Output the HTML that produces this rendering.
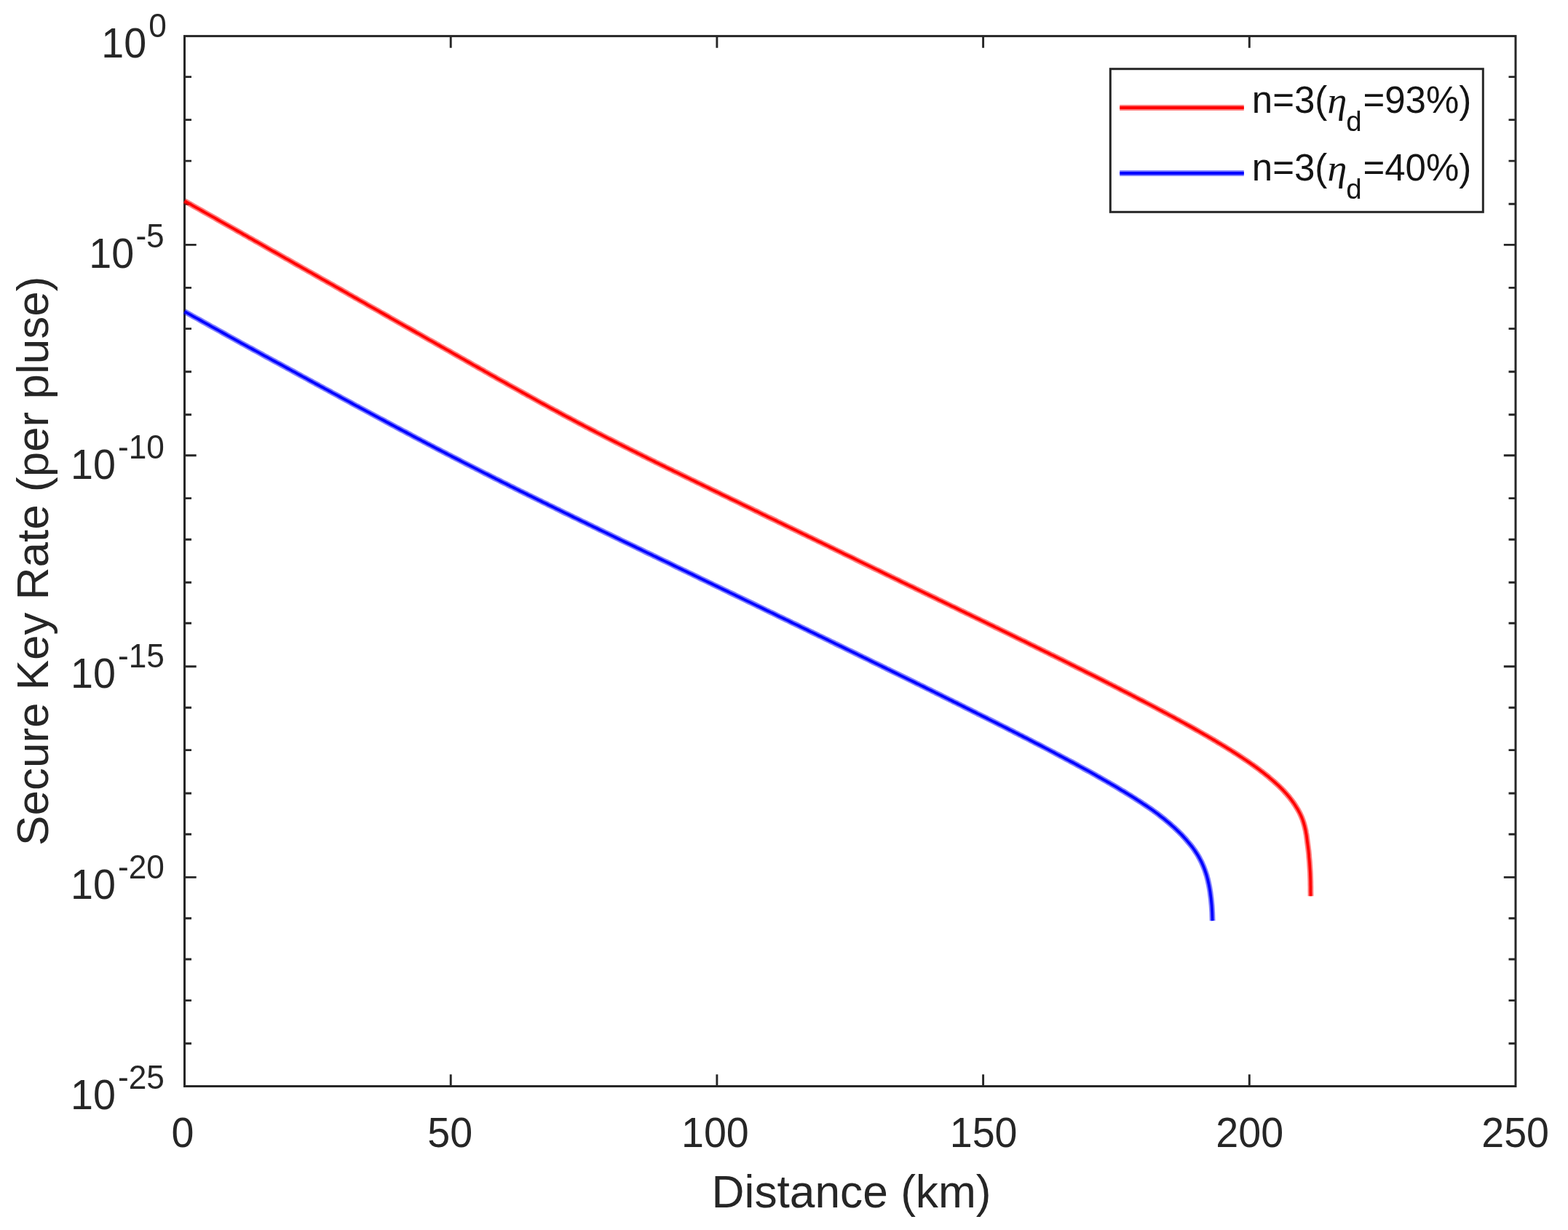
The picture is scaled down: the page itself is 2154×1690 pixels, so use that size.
<!DOCTYPE html>
<html lang="en">
<head>
<meta charset="utf-8">
<title>Secure Key Rate vs Distance</title>
<style>
html,body{margin:0;padding:0;background:#fff;}
body{width:2154px;height:1690px;overflow:hidden;}
svg{display:block;}
text{font-family:"Liberation Sans",sans-serif;fill:#262626;}
text.eta{font-family:"Liberation Serif",serif;font-style:italic;}
text.lg{fill:#141414;}
</style>
</head>
<body>
<svg width="2154" height="1690" viewBox="0 0 2154 1690">
<rect x="0" y="0" width="2154" height="1690" fill="#ffffff"/>
<!-- ticks -->
<g stroke="#262626" stroke-width="2.9" fill="none">
<path d="M253.5 105.6h9.5M2082.0 105.6h-9.5"/>
<path d="M253.5 164.6h9.5M2082.0 164.6h-9.5"/>
<path d="M253.5 221.1h9.5M2082.0 221.1h-9.5"/>
<path d="M253.5 280.2h9.5M2082.0 280.2h-9.5"/>
<path d="M253.5 336.4h16.2M2082.0 336.4h-16.2"/>
<path d="M253.5 395.4h9.5M2082.0 395.4h-9.5"/>
<path d="M253.5 451.6h9.5M2082.0 451.6h-9.5"/>
<path d="M253.5 510.8h9.5M2082.0 510.8h-9.5"/>
<path d="M253.5 569.8h9.5M2082.0 569.8h-9.5"/>
<path d="M253.5 625.8h16.2M2082.0 625.8h-16.2"/>
<path d="M253.5 684.6h9.5M2082.0 684.6h-9.5"/>
<path d="M253.5 741.2h9.5M2082.0 741.2h-9.5"/>
<path d="M253.5 800.3h9.5M2082.0 800.3h-9.5"/>
<path d="M253.5 856.3h9.5M2082.0 856.3h-9.5"/>
<path d="M253.5 915.7h16.2M2082.0 915.7h-16.2"/>
<path d="M253.5 972.3h9.5M2082.0 972.3h-9.5"/>
<path d="M253.5 1030.6h9.5M2082.0 1030.6h-9.5"/>
<path d="M253.5 1090.0h9.5M2082.0 1090.0h-9.5"/>
<path d="M253.5 1146.3h9.5M2082.0 1146.3h-9.5"/>
<path d="M253.5 1205.4h16.2M2082.0 1205.4h-16.2"/>
<path d="M253.5 1261.7h9.5M2082.0 1261.7h-9.5"/>
<path d="M253.5 1318.0h9.5M2082.0 1318.0h-9.5"/>
<path d="M253.5 1374.6h9.5M2082.0 1374.6h-9.5"/>
<path d="M253.5 1433.7h9.5M2082.0 1433.7h-9.5"/>
<path d="M619.2 1492.5v-16.2M619.2 49.6v16.2"/>
<path d="M984.9 1492.5v-16.2M984.9 49.6v16.2"/>
<path d="M1350.6 1492.5v-16.2M1350.6 49.6v16.2"/>
<path d="M1716.3 1492.5v-16.2M1716.3 49.6v16.2"/>
</g>
<!-- axes box -->
<rect x="253.5" y="49.6" width="1828.5" height="1442.9" fill="none" stroke="#262626" stroke-width="3"/>
<!-- data curves -->
<g fill="none" stroke="#ff0000" stroke-linejoin="round">
<path d="M253.5 276.0 L257.6 278.4 L261.7 280.7 L265.8 283.1 L269.9 285.4 L274.0 287.7 L278.1 290.0 L282.2 292.3 L286.3 294.6 L290.3 296.9 L294.4 299.2 L298.4 301.5 L302.5 303.8 L306.5 306.1 L310.5 308.4 L314.5 310.7 L318.5 312.9 L322.5 315.2 L326.5 317.5 L330.5 319.7 L334.4 322.0 L338.4 324.2 L342.3 326.5 L346.3 328.7 L350.2 331.0 L354.2 333.2 L358.1 335.4 L362.0 337.6 L365.9 339.9 L369.8 342.1 L373.7 344.3 L377.6 346.5 L381.4 348.7 L385.3 350.9 L389.2 353.1 L393.0 355.3 L396.9 357.4 L400.7 359.6 L404.5 361.8 L408.3 364.0 L412.2 366.1 L416.0 368.3 L419.7 370.4 L423.5 372.6 L427.3 374.7 L431.1 376.9 L434.9 379.0 L438.6 381.1 L442.4 383.3 L446.1 385.4 L449.8 387.5 L453.6 389.6 L457.3 391.7 L461.0 393.8 L464.7 395.9 L468.4 398.0 L472.1 400.1 L475.7 402.2 L479.4 404.3 L483.1 406.4 L486.7 408.5 L490.4 410.5 L494.0 412.6 L497.7 414.7 L501.3 416.7 L504.9 418.8 L508.5 420.8 L512.1 422.9 L515.7 424.9 L519.3 426.9 L522.9 429.0 L526.5 431.0 L530.0 433.0 L533.6 435.0 L537.1 437.1 L540.7 439.1 L544.2 441.1 L547.7 443.1 L551.3 445.1 L554.8 447.1 L558.3 449.1 L561.8 451.0 L565.3 453.0 L568.8 455.0 L572.2 457.0 L575.7 458.9 L579.2 460.9 L582.6 462.8 L586.1 464.8 L589.5 466.8 L592.9 468.7 L596.4 470.6 L599.8 472.6 L603.2 474.5 L606.6 476.5 L610.0 478.4 L613.4 480.3 L616.8 482.2 L620.1 484.2 L623.5 486.1 L626.9 488.0 L630.2 489.9 L633.6 491.8 L636.9 493.7 L640.2 495.6 L643.6 497.5 L646.9 499.4 L650.2 501.3 L653.5 503.1 L656.8 505.0 L660.1 506.9 L663.4 508.7 L666.6 510.6 L669.9 512.4 L673.2 514.3 L676.4 516.1 L679.7 517.9 L682.9 519.8 L686.1 521.6 L689.3 523.4 L692.6 525.2 L695.8 527.0 L699.0 528.8 L702.2 530.6 L705.4 532.4 L708.6 534.2 L711.7 535.9 L714.9 537.7 L718.1 539.5 L721.2 541.2 L724.4 543.0 L727.5 544.7 L730.6 546.4 L733.8 548.2 L736.9 549.9 L740.0 551.6 L743.1 553.3 L746.2 555.0 L749.3 556.7 L752.4 558.4 L755.5 560.1 L758.5 561.7 L761.6 563.4 L764.7 565.0 L767.7 566.7 L770.8 568.3 L773.8 570.0 L776.8 571.6 L779.9 573.2 L782.9 574.8 L785.9 576.4 L788.9 578.0 L791.9 579.6 L794.9 581.2 L797.9 582.8 L800.9 584.3 L803.8 585.9 L806.8 587.4 L809.8 589.0 L812.7 590.5 L815.7 592.0 L818.6 593.6 L821.5 595.1 L824.5 596.6 L827.4 598.1 L830.3 599.6 L833.2 601.1 L836.1 602.6 L839.0 604.0 L841.9 605.5 L844.8 607.0 L847.6 608.4 L850.5 609.9 L853.4 611.3 L856.2 612.8 L859.1 614.2 L861.9 615.6 L864.8 617.1 L867.6 618.5 L870.4 619.9 L873.2 621.3 L876.0 622.7 L878.8 624.1 L881.6 625.5 L884.4 626.9 L887.2 628.3 L890.0 629.7 L892.8 631.1 L895.5 632.4 L898.3 633.8 L901.0 635.2 L903.8 636.5 L906.5 637.9 L909.3 639.2 L912.0 640.5 L914.7 641.9 L917.4 643.2 L920.1 644.5 L922.8 645.8 L925.5 647.2 L929.6 649.1 L933.6 651.1 L937.6 653.1 L941.6 655.0 L945.6 656.9 L949.5 658.9 L953.5 660.8 L957.4 662.7 L961.3 664.6 L965.2 666.5 L969.1 668.4 L973.0 670.3 L976.9 672.2 L980.7 674.1 L984.6 675.9 L988.4 677.8 L992.2 679.7 L996.0 681.5 L999.8 683.3 L1003.6 685.2 L1007.3 687.0 L1011.1 688.8 L1014.8 690.6 L1018.5 692.4 L1022.2 694.2 L1025.9 696.0 L1029.6 697.8 L1033.3 699.6 L1036.9 701.4 L1040.6 703.1 L1044.2 704.9 L1047.8 706.7 L1051.4 708.4 L1055.0 710.2 L1058.6 711.9 L1062.2 713.6 L1065.7 715.3 L1069.2 717.1 L1072.8 718.8 L1076.3 720.5 L1079.8 722.2 L1083.3 723.9 L1086.7 725.6 L1090.2 727.2 L1093.7 728.9 L1097.1 730.6 L1100.5 732.2 L1103.9 733.9 L1107.3 735.5 L1110.7 737.2 L1114.1 738.8 L1117.5 740.5 L1120.8 742.1 L1124.1 743.7 L1127.5 745.3 L1130.8 746.9 L1134.1 748.5 L1137.4 750.1 L1140.6 751.7 L1143.9 753.3 L1147.2 754.9 L1150.4 756.5 L1153.6 758.0 L1156.8 759.6 L1160.0 761.2 L1163.2 762.7 L1166.4 764.2 L1169.6 765.8 L1172.7 767.3 L1175.9 768.9 L1179.0 770.4 L1182.1 771.9 L1185.2 773.4 L1188.3 774.9 L1191.4 776.4 L1194.5 777.9 L1197.6 779.4 L1200.6 780.9 L1203.7 782.4 L1206.7 783.8 L1209.7 785.3 L1212.7 786.8 L1215.7 788.2 L1218.7 789.7 L1221.6 791.1 L1224.6 792.6 L1227.6 794.0 L1230.5 795.4 L1233.4 796.8 L1236.3 798.3 L1239.2 799.7 L1242.1 801.1 L1245.0 802.5 L1247.9 803.9 L1250.7 805.3 L1253.6 806.6 L1256.4 808.0 L1259.2 809.4 L1262.0 810.7 L1264.9 812.1 L1267.6 813.4 L1270.4 814.8 L1273.2 816.1 L1276.0 817.5 L1278.7 818.8 L1281.4 820.1 L1284.2 821.4 L1286.9 822.7 L1289.6 824.1 L1293.2 825.8 L1296.7 827.5 L1300.3 829.2 L1303.8 830.9 L1307.3 832.7 L1310.8 834.3 L1314.3 836.0 L1317.8 837.7 L1321.2 839.4 L1324.6 841.0 L1328.0 842.7 L1331.4 844.3 L1334.8 846.0 L1338.1 847.6 L1341.5 849.2 L1344.8 850.8 L1348.1 852.4 L1351.4 854.0 L1354.6 855.6 L1357.9 857.2 L1361.1 858.7 L1364.3 860.3 L1367.5 861.9 L1370.7 863.4 L1373.8 864.9 L1377.0 866.5 L1380.1 868.0 L1383.2 869.5 L1386.3 871.0 L1389.3 872.5 L1392.4 874.0 L1395.4 875.5 L1398.4 877.0 L1401.4 878.4 L1404.4 879.9 L1407.4 881.3 L1410.3 882.8 L1413.3 884.2 L1416.2 885.7 L1419.1 887.1 L1422.0 888.5 L1424.8 889.9 L1427.7 891.3 L1430.5 892.7 L1433.3 894.1 L1436.1 895.5 L1438.9 896.8 L1441.7 898.2 L1444.4 899.6 L1447.2 900.9 L1449.9 902.3 L1452.6 903.6 L1455.3 904.9 L1458.7 906.6 L1462.0 908.3 L1465.3 909.9 L1468.5 911.5 L1471.8 913.2 L1475.0 914.8 L1478.2 916.4 L1481.4 918.0 L1484.5 919.5 L1487.7 921.1 L1490.8 922.7 L1493.8 924.2 L1496.9 925.8 L1499.9 927.3 L1503.0 928.8 L1505.9 930.3 L1508.9 931.8 L1511.9 933.3 L1514.8 934.8 L1517.7 936.3 L1520.6 937.7 L1523.4 939.2 L1526.3 940.6 L1529.1 942.1 L1531.9 943.5 L1534.6 944.9 L1537.4 946.3 L1540.1 947.7 L1542.8 949.1 L1545.5 950.5 L1548.7 952.1 L1551.9 953.8 L1555.0 955.4 L1558.1 957.0 L1561.2 958.6 L1564.2 960.2 L1567.2 961.7 L1570.2 963.3 L1573.2 964.9 L1576.1 966.4 L1579.0 967.9 L1581.9 969.4 L1584.7 970.9 L1587.6 972.4 L1590.3 973.9 L1593.1 975.4 L1595.8 976.8 L1598.6 978.3 L1601.2 979.7 L1603.9 981.1 L1607.0 982.8 L1610.0 984.4 L1613.0 986.0 L1615.9 987.7 L1618.9 989.2 L1621.8 990.8 L1624.6 992.4 L1627.4 993.9 L1630.2 995.5 L1633.0 997.0 L1635.7 998.5 L1638.4 1000.0 L1641.0 1001.5 L1643.6 1003.0 L1646.6 1004.7 L1649.5 1006.3 L1652.4 1008.0 L1655.2 1009.6 L1658.0 1011.2 L1660.8 1012.8 L1663.5 1014.4 L1666.1 1016.0 L1668.8 1017.5 L1671.4 1019.1 L1674.2 1020.8 L1677.1 1022.5 L1679.8 1024.2 L1682.6 1025.8 L1685.2 1027.5 L1687.9 1029.1 L1690.5 1030.7 L1693.0 1032.3 L1695.8 1034.1 L1698.5 1035.8 L1701.2 1037.6 L1703.8 1039.3 L1706.4 1041.0 L1708.9 1042.7 L1711.6 1044.5 L1714.3 1046.3 L1716.9 1048.1 L1719.4 1049.9 L1721.9 1051.6 L1724.5 1053.5 L1727.1 1055.4 L1729.6 1057.2 L1732.0 1059.1 L1734.6 1061.0 L1737.1 1063.0 L1739.5 1064.9 L1741.9 1066.8 L1744.3 1068.9 L1746.7 1070.9 L1749.0 1072.9 L1751.4 1075.0 L1753.7 1077.1 L1756.0 1079.2 L1758.3 1081.4 L1760.5 1083.6 L1762.6 1085.7 L1764.7 1088.0 L1766.8 1090.3 L1768.8 1092.6 L1770.8 1094.9 L1772.7 1097.3 L1774.6 1099.8 L1776.4 1102.3 L1778.1 1104.8 L1779.8 1107.4 L1781.4 1110.0 L1783.0 1112.6 L1784.5 1115.3 L1785.9 1118.0 L1787.2 1120.8 L1788.4 1123.6 L1789.5 1126.4 L1790.5 1129.4 L1791.4 1132.4 L1792.2 1135.3 L1792.9 1138.2 L1793.6 1141.2 L1794.1 1144.2 L1794.7 1147.3 L1795.1 1150.3 L1795.5 1153.3 L1795.9 1156.5 L1796.3 1159.5 L1796.7 1162.6 L1797.1 1165.6 L1797.5 1168.7 L1797.8 1171.7 L1798.1 1174.8 L1798.3 1177.9 L1798.6 1180.9 L1798.9 1184.1 L1799.1 1187.1 L1799.3 1190.2 L1799.5 1193.4 L1799.7 1196.4 L1799.9 1199.6 L1800.0 1202.6 L1800.1 1205.7 L1800.2 1208.9 L1800.3 1211.9 L1800.3 1215.0 L1800.4 1218.3 L1800.4 1221.3 L1800.4 1224.5 L1800.5 1227.7 L1800.5 1230.7 L1800.5 1231.2" stroke-width="7.8" stroke-opacity="0.5"/>
<path d="M253.5 276.0 L257.6 278.4 L261.7 280.7 L265.8 283.1 L269.9 285.4 L274.0 287.7 L278.1 290.0 L282.2 292.3 L286.3 294.6 L290.3 296.9 L294.4 299.2 L298.4 301.5 L302.5 303.8 L306.5 306.1 L310.5 308.4 L314.5 310.7 L318.5 312.9 L322.5 315.2 L326.5 317.5 L330.5 319.7 L334.4 322.0 L338.4 324.2 L342.3 326.5 L346.3 328.7 L350.2 331.0 L354.2 333.2 L358.1 335.4 L362.0 337.6 L365.9 339.9 L369.8 342.1 L373.7 344.3 L377.6 346.5 L381.4 348.7 L385.3 350.9 L389.2 353.1 L393.0 355.3 L396.9 357.4 L400.7 359.6 L404.5 361.8 L408.3 364.0 L412.2 366.1 L416.0 368.3 L419.7 370.4 L423.5 372.6 L427.3 374.7 L431.1 376.9 L434.9 379.0 L438.6 381.1 L442.4 383.3 L446.1 385.4 L449.8 387.5 L453.6 389.6 L457.3 391.7 L461.0 393.8 L464.7 395.9 L468.4 398.0 L472.1 400.1 L475.7 402.2 L479.4 404.3 L483.1 406.4 L486.7 408.5 L490.4 410.5 L494.0 412.6 L497.7 414.7 L501.3 416.7 L504.9 418.8 L508.5 420.8 L512.1 422.9 L515.7 424.9 L519.3 426.9 L522.9 429.0 L526.5 431.0 L530.0 433.0 L533.6 435.0 L537.1 437.1 L540.7 439.1 L544.2 441.1 L547.7 443.1 L551.3 445.1 L554.8 447.1 L558.3 449.1 L561.8 451.0 L565.3 453.0 L568.8 455.0 L572.2 457.0 L575.7 458.9 L579.2 460.9 L582.6 462.8 L586.1 464.8 L589.5 466.8 L592.9 468.7 L596.4 470.6 L599.8 472.6 L603.2 474.5 L606.6 476.5 L610.0 478.4 L613.4 480.3 L616.8 482.2 L620.1 484.2 L623.5 486.1 L626.9 488.0 L630.2 489.9 L633.6 491.8 L636.9 493.7 L640.2 495.6 L643.6 497.5 L646.9 499.4 L650.2 501.3 L653.5 503.1 L656.8 505.0 L660.1 506.9 L663.4 508.7 L666.6 510.6 L669.9 512.4 L673.2 514.3 L676.4 516.1 L679.7 517.9 L682.9 519.8 L686.1 521.6 L689.3 523.4 L692.6 525.2 L695.8 527.0 L699.0 528.8 L702.2 530.6 L705.4 532.4 L708.6 534.2 L711.7 535.9 L714.9 537.7 L718.1 539.5 L721.2 541.2 L724.4 543.0 L727.5 544.7 L730.6 546.4 L733.8 548.2 L736.9 549.9 L740.0 551.6 L743.1 553.3 L746.2 555.0 L749.3 556.7 L752.4 558.4 L755.5 560.1 L758.5 561.7 L761.6 563.4 L764.7 565.0 L767.7 566.7 L770.8 568.3 L773.8 570.0 L776.8 571.6 L779.9 573.2 L782.9 574.8 L785.9 576.4 L788.9 578.0 L791.9 579.6 L794.9 581.2 L797.9 582.8 L800.9 584.3 L803.8 585.9 L806.8 587.4 L809.8 589.0 L812.7 590.5 L815.7 592.0 L818.6 593.6 L821.5 595.1 L824.5 596.6 L827.4 598.1 L830.3 599.6 L833.2 601.1 L836.1 602.6 L839.0 604.0 L841.9 605.5 L844.8 607.0 L847.6 608.4 L850.5 609.9 L853.4 611.3 L856.2 612.8 L859.1 614.2 L861.9 615.6 L864.8 617.1 L867.6 618.5 L870.4 619.9 L873.2 621.3 L876.0 622.7 L878.8 624.1 L881.6 625.5 L884.4 626.9 L887.2 628.3 L890.0 629.7 L892.8 631.1 L895.5 632.4 L898.3 633.8 L901.0 635.2 L903.8 636.5 L906.5 637.9 L909.3 639.2 L912.0 640.5 L914.7 641.9 L917.4 643.2 L920.1 644.5 L922.8 645.8 L925.5 647.2 L929.6 649.1 L933.6 651.1 L937.6 653.1 L941.6 655.0 L945.6 656.9 L949.5 658.9 L953.5 660.8 L957.4 662.7 L961.3 664.6 L965.2 666.5 L969.1 668.4 L973.0 670.3 L976.9 672.2 L980.7 674.1 L984.6 675.9 L988.4 677.8 L992.2 679.7 L996.0 681.5 L999.8 683.3 L1003.6 685.2 L1007.3 687.0 L1011.1 688.8 L1014.8 690.6 L1018.5 692.4 L1022.2 694.2 L1025.9 696.0 L1029.6 697.8 L1033.3 699.6 L1036.9 701.4 L1040.6 703.1 L1044.2 704.9 L1047.8 706.7 L1051.4 708.4 L1055.0 710.2 L1058.6 711.9 L1062.2 713.6 L1065.7 715.3 L1069.2 717.1 L1072.8 718.8 L1076.3 720.5 L1079.8 722.2 L1083.3 723.9 L1086.7 725.6 L1090.2 727.2 L1093.7 728.9 L1097.1 730.6 L1100.5 732.2 L1103.9 733.9 L1107.3 735.5 L1110.7 737.2 L1114.1 738.8 L1117.5 740.5 L1120.8 742.1 L1124.1 743.7 L1127.5 745.3 L1130.8 746.9 L1134.1 748.5 L1137.4 750.1 L1140.6 751.7 L1143.9 753.3 L1147.2 754.9 L1150.4 756.5 L1153.6 758.0 L1156.8 759.6 L1160.0 761.2 L1163.2 762.7 L1166.4 764.2 L1169.6 765.8 L1172.7 767.3 L1175.9 768.9 L1179.0 770.4 L1182.1 771.9 L1185.2 773.4 L1188.3 774.9 L1191.4 776.4 L1194.5 777.9 L1197.6 779.4 L1200.6 780.9 L1203.7 782.4 L1206.7 783.8 L1209.7 785.3 L1212.7 786.8 L1215.7 788.2 L1218.7 789.7 L1221.6 791.1 L1224.6 792.6 L1227.6 794.0 L1230.5 795.4 L1233.4 796.8 L1236.3 798.3 L1239.2 799.7 L1242.1 801.1 L1245.0 802.5 L1247.9 803.9 L1250.7 805.3 L1253.6 806.6 L1256.4 808.0 L1259.2 809.4 L1262.0 810.7 L1264.9 812.1 L1267.6 813.4 L1270.4 814.8 L1273.2 816.1 L1276.0 817.5 L1278.7 818.8 L1281.4 820.1 L1284.2 821.4 L1286.9 822.7 L1289.6 824.1 L1293.2 825.8 L1296.7 827.5 L1300.3 829.2 L1303.8 830.9 L1307.3 832.7 L1310.8 834.3 L1314.3 836.0 L1317.8 837.7 L1321.2 839.4 L1324.6 841.0 L1328.0 842.7 L1331.4 844.3 L1334.8 846.0 L1338.1 847.6 L1341.5 849.2 L1344.8 850.8 L1348.1 852.4 L1351.4 854.0 L1354.6 855.6 L1357.9 857.2 L1361.1 858.7 L1364.3 860.3 L1367.5 861.9 L1370.7 863.4 L1373.8 864.9 L1377.0 866.5 L1380.1 868.0 L1383.2 869.5 L1386.3 871.0 L1389.3 872.5 L1392.4 874.0 L1395.4 875.5 L1398.4 877.0 L1401.4 878.4 L1404.4 879.9 L1407.4 881.3 L1410.3 882.8 L1413.3 884.2 L1416.2 885.7 L1419.1 887.1 L1422.0 888.5 L1424.8 889.9 L1427.7 891.3 L1430.5 892.7 L1433.3 894.1 L1436.1 895.5 L1438.9 896.8 L1441.7 898.2 L1444.4 899.6 L1447.2 900.9 L1449.9 902.3 L1452.6 903.6 L1455.3 904.9 L1458.7 906.6 L1462.0 908.3 L1465.3 909.9 L1468.5 911.5 L1471.8 913.2 L1475.0 914.8 L1478.2 916.4 L1481.4 918.0 L1484.5 919.5 L1487.7 921.1 L1490.8 922.7 L1493.8 924.2 L1496.9 925.8 L1499.9 927.3 L1503.0 928.8 L1505.9 930.3 L1508.9 931.8 L1511.9 933.3 L1514.8 934.8 L1517.7 936.3 L1520.6 937.7 L1523.4 939.2 L1526.3 940.6 L1529.1 942.1 L1531.9 943.5 L1534.6 944.9 L1537.4 946.3 L1540.1 947.7 L1542.8 949.1 L1545.5 950.5 L1548.7 952.1 L1551.9 953.8 L1555.0 955.4 L1558.1 957.0 L1561.2 958.6 L1564.2 960.2 L1567.2 961.7 L1570.2 963.3 L1573.2 964.9 L1576.1 966.4 L1579.0 967.9 L1581.9 969.4 L1584.7 970.9 L1587.6 972.4 L1590.3 973.9 L1593.1 975.4 L1595.8 976.8 L1598.6 978.3 L1601.2 979.7 L1603.9 981.1 L1607.0 982.8 L1610.0 984.4 L1613.0 986.0 L1615.9 987.7 L1618.9 989.2 L1621.8 990.8 L1624.6 992.4 L1627.4 993.9 L1630.2 995.5 L1633.0 997.0 L1635.7 998.5 L1638.4 1000.0 L1641.0 1001.5 L1643.6 1003.0 L1646.6 1004.7 L1649.5 1006.3 L1652.4 1008.0 L1655.2 1009.6 L1658.0 1011.2 L1660.8 1012.8 L1663.5 1014.4 L1666.1 1016.0 L1668.8 1017.5 L1671.4 1019.1 L1674.2 1020.8 L1677.1 1022.5 L1679.8 1024.2 L1682.6 1025.8 L1685.2 1027.5 L1687.9 1029.1 L1690.5 1030.7 L1693.0 1032.3 L1695.8 1034.1 L1698.5 1035.8 L1701.2 1037.6 L1703.8 1039.3 L1706.4 1041.0 L1708.9 1042.7 L1711.6 1044.5 L1714.3 1046.3 L1716.9 1048.1 L1719.4 1049.9 L1721.9 1051.6 L1724.5 1053.5 L1727.1 1055.4 L1729.6 1057.2 L1732.0 1059.1 L1734.6 1061.0 L1737.1 1063.0 L1739.5 1064.9 L1741.9 1066.8 L1744.3 1068.9 L1746.7 1070.9 L1749.0 1072.9 L1751.4 1075.0 L1753.7 1077.1 L1756.0 1079.2 L1758.3 1081.4 L1760.5 1083.6 L1762.6 1085.7 L1764.7 1088.0 L1766.8 1090.3 L1768.8 1092.6 L1770.8 1094.9 L1772.7 1097.3 L1774.6 1099.8 L1776.4 1102.3 L1778.1 1104.8 L1779.8 1107.4 L1781.4 1110.0 L1783.0 1112.6 L1784.5 1115.3 L1785.9 1118.0 L1787.2 1120.8 L1788.4 1123.6 L1789.5 1126.4 L1790.5 1129.4 L1791.4 1132.4 L1792.2 1135.3 L1792.9 1138.2 L1793.6 1141.2 L1794.1 1144.2 L1794.7 1147.3 L1795.1 1150.3 L1795.5 1153.3 L1795.9 1156.5 L1796.3 1159.5 L1796.7 1162.6 L1797.1 1165.6 L1797.5 1168.7 L1797.8 1171.7 L1798.1 1174.8 L1798.3 1177.9 L1798.6 1180.9 L1798.9 1184.1 L1799.1 1187.1 L1799.3 1190.2 L1799.5 1193.4 L1799.7 1196.4 L1799.9 1199.6 L1800.0 1202.6 L1800.1 1205.7 L1800.2 1208.9 L1800.3 1211.9 L1800.3 1215.0 L1800.4 1218.3 L1800.4 1221.3 L1800.4 1224.5 L1800.5 1227.7 L1800.5 1230.7 L1800.5 1231.2" stroke-width="3.8"/>
</g>
<g fill="none" stroke="#0000ff" stroke-linejoin="round">
<path d="M253.5 428.0 L257.3 430.1 L261.0 432.2 L264.8 434.3 L268.5 436.4 L272.3 438.4 L276.0 440.5 L279.7 442.6 L283.4 444.7 L287.1 446.7 L290.8 448.8 L294.5 450.8 L298.2 452.9 L301.9 454.9 L305.6 457.0 L309.2 459.0 L312.9 461.1 L316.5 463.1 L320.2 465.1 L323.8 467.1 L327.4 469.2 L331.0 471.2 L334.7 473.1 L338.3 475.1 L341.9 477.1 L345.5 479.0 L349.0 481.0 L352.6 482.9 L356.2 484.9 L359.7 486.8 L363.3 488.8 L366.8 490.7 L370.4 492.6 L373.9 494.6 L377.4 496.5 L380.9 498.4 L384.5 500.3 L388.0 502.2 L391.5 504.1 L394.9 506.0 L398.4 507.9 L401.9 509.8 L405.4 511.7 L408.8 513.6 L412.3 515.5 L415.7 517.4 L419.2 519.2 L422.6 521.1 L426.0 523.0 L429.4 524.8 L432.8 526.7 L436.2 528.5 L439.6 530.4 L443.0 532.2 L446.4 534.1 L449.8 535.9 L453.2 537.7 L456.5 539.6 L459.9 541.4 L463.2 543.2 L466.6 545.0 L469.9 546.8 L473.2 548.6 L476.5 550.4 L479.8 552.2 L483.1 554.0 L486.4 555.8 L489.7 557.6 L493.0 559.3 L496.3 561.1 L499.6 562.9 L502.8 564.6 L506.1 566.4 L509.3 568.1 L512.6 569.9 L515.8 571.6 L519.1 573.4 L522.3 575.1 L525.5 576.8 L528.7 578.5 L531.9 580.3 L535.1 582.0 L538.3 583.7 L541.5 585.4 L544.6 587.1 L547.8 588.8 L551.0 590.5 L554.1 592.1 L557.3 593.8 L560.4 595.5 L563.6 597.1 L566.7 598.8 L569.8 600.5 L572.9 602.1 L576.0 603.7 L579.1 605.4 L582.2 607.0 L585.3 608.6 L588.4 610.3 L591.5 611.9 L594.6 613.5 L597.6 615.1 L600.7 616.7 L603.7 618.3 L606.8 619.9 L609.8 621.4 L612.8 623.0 L615.9 624.6 L618.9 626.1 L621.9 627.7 L624.9 629.2 L627.9 630.8 L630.9 632.3 L633.9 633.9 L636.8 635.4 L639.8 636.9 L642.8 638.4 L645.7 639.9 L648.7 641.4 L651.6 642.9 L654.6 644.4 L657.5 645.9 L660.4 647.4 L663.3 648.9 L666.3 650.4 L669.2 651.8 L672.1 653.3 L675.0 654.8 L677.9 656.2 L680.7 657.7 L683.6 659.1 L686.5 660.5 L689.3 662.0 L692.2 663.4 L695.1 664.8 L697.9 666.2 L700.7 667.7 L703.6 669.1 L706.4 670.5 L709.2 671.9 L712.0 673.3 L714.8 674.7 L717.6 676.0 L720.4 677.4 L723.2 678.8 L726.0 680.2 L728.8 681.5 L731.6 682.9 L734.3 684.3 L737.1 685.6 L739.8 687.0 L742.6 688.3 L745.3 689.7 L748.0 691.0 L750.8 692.3 L753.5 693.7 L756.2 695.0 L758.9 696.3 L761.6 697.6 L764.3 699.0 L768.4 700.9 L772.4 702.9 L776.4 704.9 L780.4 706.8 L784.4 708.7 L788.3 710.7 L792.3 712.6 L796.2 714.5 L800.1 716.4 L804.1 718.3 L808.0 720.2 L811.9 722.1 L815.7 724.0 L819.6 725.8 L823.4 727.7 L827.3 729.6 L831.1 731.4 L834.9 733.2 L838.7 735.1 L842.5 736.9 L846.2 738.7 L850.0 740.6 L853.7 742.4 L857.5 744.2 L861.2 746.0 L864.9 747.7 L868.6 749.5 L872.3 751.3 L875.9 753.1 L879.6 754.8 L883.2 756.6 L886.9 758.4 L890.5 760.1 L894.1 761.8 L897.7 763.6 L901.3 765.3 L904.8 767.0 L908.4 768.7 L911.9 770.4 L915.4 772.1 L919.0 773.8 L922.5 775.5 L926.0 777.2 L929.4 778.9 L932.9 780.6 L936.4 782.2 L939.8 783.9 L943.2 785.5 L946.7 787.2 L950.1 788.8 L953.5 790.5 L956.8 792.1 L960.2 793.7 L963.6 795.4 L966.9 797.0 L970.2 798.6 L973.6 800.2 L976.9 801.8 L980.2 803.4 L983.5 805.0 L986.7 806.5 L990.0 808.1 L993.3 809.7 L996.5 811.2 L999.7 812.8 L1002.9 814.4 L1006.1 815.9 L1009.3 817.4 L1012.5 819.0 L1015.7 820.5 L1018.8 822.0 L1022.0 823.6 L1025.1 825.1 L1028.3 826.6 L1031.4 828.1 L1034.5 829.6 L1037.6 831.1 L1040.6 832.6 L1043.7 834.0 L1046.8 835.5 L1049.8 837.0 L1052.8 838.5 L1055.9 839.9 L1058.9 841.4 L1061.9 842.8 L1064.9 844.3 L1067.8 845.7 L1070.8 847.2 L1073.8 848.6 L1076.7 850.0 L1079.6 851.4 L1082.6 852.8 L1085.5 854.2 L1088.4 855.7 L1091.3 857.1 L1094.1 858.4 L1097.0 859.8 L1099.9 861.2 L1102.7 862.6 L1105.6 864.0 L1108.4 865.3 L1111.2 866.7 L1114.0 868.1 L1116.8 869.4 L1119.6 870.8 L1122.3 872.1 L1125.1 873.5 L1127.9 874.8 L1130.6 876.1 L1133.3 877.4 L1136.1 878.8 L1138.8 880.1 L1141.5 881.4 L1145.0 883.1 L1148.6 884.9 L1152.2 886.6 L1155.7 888.3 L1159.2 890.0 L1162.7 891.7 L1166.2 893.4 L1169.6 895.1 L1173.1 896.8 L1176.5 898.4 L1179.9 900.1 L1183.3 901.7 L1186.6 903.4 L1190.0 905.0 L1193.3 906.6 L1196.6 908.3 L1199.9 909.9 L1203.2 911.5 L1206.5 913.1 L1209.7 914.6 L1212.9 916.2 L1216.1 917.8 L1219.3 919.4 L1222.5 920.9 L1225.7 922.5 L1228.8 924.0 L1231.9 925.5 L1235.1 927.1 L1238.1 928.6 L1241.2 930.1 L1244.3 931.6 L1247.3 933.1 L1250.4 934.6 L1253.4 936.0 L1256.4 937.5 L1259.3 939.0 L1262.3 940.4 L1265.2 941.9 L1268.2 943.3 L1271.1 944.8 L1274.0 946.2 L1276.9 947.6 L1279.7 949.0 L1282.6 950.4 L1285.4 951.9 L1288.2 953.2 L1291.0 954.6 L1293.8 956.0 L1296.6 957.4 L1299.3 958.8 L1302.1 960.1 L1304.8 961.5 L1307.5 962.8 L1310.2 964.2 L1313.6 965.8 L1316.9 967.5 L1320.2 969.1 L1323.5 970.8 L1326.7 972.4 L1329.9 974.0 L1333.1 975.6 L1336.3 977.2 L1339.5 978.8 L1342.6 980.4 L1345.7 981.9 L1348.8 983.5 L1351.9 985.0 L1355.0 986.5 L1358.0 988.1 L1361.0 989.6 L1364.0 991.1 L1366.9 992.5 L1369.9 994.0 L1372.8 995.5 L1375.7 996.9 L1378.6 998.4 L1381.4 999.8 L1384.3 1001.3 L1387.1 1002.7 L1389.9 1004.1 L1392.6 1005.5 L1395.4 1006.9 L1398.1 1008.3 L1400.8 1009.7 L1403.5 1011.0 L1406.7 1012.7 L1409.9 1014.3 L1413.0 1015.9 L1416.1 1017.5 L1419.2 1019.1 L1422.2 1020.7 L1425.3 1022.2 L1428.3 1023.8 L1431.2 1025.3 L1434.2 1026.9 L1437.1 1028.4 L1440.0 1029.9 L1442.8 1031.4 L1445.7 1032.9 L1448.5 1034.3 L1451.2 1035.8 L1454.0 1037.3 L1456.7 1038.7 L1459.4 1040.1 L1462.1 1041.6 L1464.7 1043.0 L1467.8 1044.6 L1470.8 1046.2 L1473.8 1047.8 L1476.8 1049.4 L1479.7 1051.0 L1482.6 1052.6 L1485.4 1054.1 L1488.2 1055.7 L1491.0 1057.2 L1493.8 1058.7 L1496.5 1060.2 L1499.2 1061.7 L1501.8 1063.2 L1504.5 1064.7 L1507.4 1066.4 L1510.3 1068.0 L1513.2 1069.6 L1516.1 1071.3 L1518.9 1072.9 L1521.6 1074.5 L1524.4 1076.0 L1527.0 1077.6 L1529.7 1079.2 L1532.3 1080.7 L1535.2 1082.4 L1538.0 1084.1 L1540.8 1085.8 L1543.6 1087.4 L1546.3 1089.1 L1548.9 1090.7 L1551.6 1092.3 L1554.1 1093.9 L1557.0 1095.7 L1559.7 1097.4 L1562.4 1099.2 L1565.1 1100.9 L1567.7 1102.6 L1570.2 1104.3 L1572.7 1105.9 L1575.4 1107.7 L1578.1 1109.5 L1580.7 1111.3 L1583.2 1113.0 L1585.6 1114.8 L1588.2 1116.7 L1590.7 1118.5 L1593.1 1120.4 L1595.6 1122.4 L1598.1 1124.3 L1600.5 1126.3 L1602.8 1128.2 L1605.3 1130.2 L1607.7 1132.3 L1609.9 1134.3 L1612.3 1136.4 L1614.6 1138.5 L1616.8 1140.6 L1619.1 1142.8 L1621.3 1145.0 L1623.4 1147.1 L1625.5 1149.4 L1627.6 1151.7 L1629.7 1154.0 L1631.7 1156.4 L1633.7 1158.8 L1635.6 1161.1 L1637.6 1163.5 L1639.4 1166.0 L1641.2 1168.5 L1642.9 1171.1 L1644.6 1173.7 L1646.2 1176.3 L1647.7 1179.0 L1649.1 1181.7 L1650.5 1184.4 L1651.8 1187.3 L1653.0 1190.1 L1654.2 1193.0 L1655.3 1196.0 L1656.3 1198.9 L1657.3 1201.9 L1658.1 1204.8 L1658.9 1207.7 L1659.6 1210.7 L1660.3 1213.8 L1660.9 1216.7 L1661.5 1219.8 L1662.0 1222.8 L1662.5 1225.8 L1662.9 1228.9 L1663.3 1232.0 L1663.7 1235.1 L1664.0 1238.2 L1664.3 1241.2 L1664.6 1244.3 L1664.8 1247.3 L1665.0 1250.4 L1665.2 1253.6 L1665.3 1256.6 L1665.4 1259.8 L1665.5 1262.8 L1665.6 1265.2" stroke-width="7.8" stroke-opacity="0.5"/>
<path d="M253.5 428.0 L257.3 430.1 L261.0 432.2 L264.8 434.3 L268.5 436.4 L272.3 438.4 L276.0 440.5 L279.7 442.6 L283.4 444.7 L287.1 446.7 L290.8 448.8 L294.5 450.8 L298.2 452.9 L301.9 454.9 L305.6 457.0 L309.2 459.0 L312.9 461.1 L316.5 463.1 L320.2 465.1 L323.8 467.1 L327.4 469.2 L331.0 471.2 L334.7 473.1 L338.3 475.1 L341.9 477.1 L345.5 479.0 L349.0 481.0 L352.6 482.9 L356.2 484.9 L359.7 486.8 L363.3 488.8 L366.8 490.7 L370.4 492.6 L373.9 494.6 L377.4 496.5 L380.9 498.4 L384.5 500.3 L388.0 502.2 L391.5 504.1 L394.9 506.0 L398.4 507.9 L401.9 509.8 L405.4 511.7 L408.8 513.6 L412.3 515.5 L415.7 517.4 L419.2 519.2 L422.6 521.1 L426.0 523.0 L429.4 524.8 L432.8 526.7 L436.2 528.5 L439.6 530.4 L443.0 532.2 L446.4 534.1 L449.8 535.9 L453.2 537.7 L456.5 539.6 L459.9 541.4 L463.2 543.2 L466.6 545.0 L469.9 546.8 L473.2 548.6 L476.5 550.4 L479.8 552.2 L483.1 554.0 L486.4 555.8 L489.7 557.6 L493.0 559.3 L496.3 561.1 L499.6 562.9 L502.8 564.6 L506.1 566.4 L509.3 568.1 L512.6 569.9 L515.8 571.6 L519.1 573.4 L522.3 575.1 L525.5 576.8 L528.7 578.5 L531.9 580.3 L535.1 582.0 L538.3 583.7 L541.5 585.4 L544.6 587.1 L547.8 588.8 L551.0 590.5 L554.1 592.1 L557.3 593.8 L560.4 595.5 L563.6 597.1 L566.7 598.8 L569.8 600.5 L572.9 602.1 L576.0 603.7 L579.1 605.4 L582.2 607.0 L585.3 608.6 L588.4 610.3 L591.5 611.9 L594.6 613.5 L597.6 615.1 L600.7 616.7 L603.7 618.3 L606.8 619.9 L609.8 621.4 L612.8 623.0 L615.9 624.6 L618.9 626.1 L621.9 627.7 L624.9 629.2 L627.9 630.8 L630.9 632.3 L633.9 633.9 L636.8 635.4 L639.8 636.9 L642.8 638.4 L645.7 639.9 L648.7 641.4 L651.6 642.9 L654.6 644.4 L657.5 645.9 L660.4 647.4 L663.3 648.9 L666.3 650.4 L669.2 651.8 L672.1 653.3 L675.0 654.8 L677.9 656.2 L680.7 657.7 L683.6 659.1 L686.5 660.5 L689.3 662.0 L692.2 663.4 L695.1 664.8 L697.9 666.2 L700.7 667.7 L703.6 669.1 L706.4 670.5 L709.2 671.9 L712.0 673.3 L714.8 674.7 L717.6 676.0 L720.4 677.4 L723.2 678.8 L726.0 680.2 L728.8 681.5 L731.6 682.9 L734.3 684.3 L737.1 685.6 L739.8 687.0 L742.6 688.3 L745.3 689.7 L748.0 691.0 L750.8 692.3 L753.5 693.7 L756.2 695.0 L758.9 696.3 L761.6 697.6 L764.3 699.0 L768.4 700.9 L772.4 702.9 L776.4 704.9 L780.4 706.8 L784.4 708.7 L788.3 710.7 L792.3 712.6 L796.2 714.5 L800.1 716.4 L804.1 718.3 L808.0 720.2 L811.9 722.1 L815.7 724.0 L819.6 725.8 L823.4 727.7 L827.3 729.6 L831.1 731.4 L834.9 733.2 L838.7 735.1 L842.5 736.9 L846.2 738.7 L850.0 740.6 L853.7 742.4 L857.5 744.2 L861.2 746.0 L864.9 747.7 L868.6 749.5 L872.3 751.3 L875.9 753.1 L879.6 754.8 L883.2 756.6 L886.9 758.4 L890.5 760.1 L894.1 761.8 L897.7 763.6 L901.3 765.3 L904.8 767.0 L908.4 768.7 L911.9 770.4 L915.4 772.1 L919.0 773.8 L922.5 775.5 L926.0 777.2 L929.4 778.9 L932.9 780.6 L936.4 782.2 L939.8 783.9 L943.2 785.5 L946.7 787.2 L950.1 788.8 L953.5 790.5 L956.8 792.1 L960.2 793.7 L963.6 795.4 L966.9 797.0 L970.2 798.6 L973.6 800.2 L976.9 801.8 L980.2 803.4 L983.5 805.0 L986.7 806.5 L990.0 808.1 L993.3 809.7 L996.5 811.2 L999.7 812.8 L1002.9 814.4 L1006.1 815.9 L1009.3 817.4 L1012.5 819.0 L1015.7 820.5 L1018.8 822.0 L1022.0 823.6 L1025.1 825.1 L1028.3 826.6 L1031.4 828.1 L1034.5 829.6 L1037.6 831.1 L1040.6 832.6 L1043.7 834.0 L1046.8 835.5 L1049.8 837.0 L1052.8 838.5 L1055.9 839.9 L1058.9 841.4 L1061.9 842.8 L1064.9 844.3 L1067.8 845.7 L1070.8 847.2 L1073.8 848.6 L1076.7 850.0 L1079.6 851.4 L1082.6 852.8 L1085.5 854.2 L1088.4 855.7 L1091.3 857.1 L1094.1 858.4 L1097.0 859.8 L1099.9 861.2 L1102.7 862.6 L1105.6 864.0 L1108.4 865.3 L1111.2 866.7 L1114.0 868.1 L1116.8 869.4 L1119.6 870.8 L1122.3 872.1 L1125.1 873.5 L1127.9 874.8 L1130.6 876.1 L1133.3 877.4 L1136.1 878.8 L1138.8 880.1 L1141.5 881.4 L1145.0 883.1 L1148.6 884.9 L1152.2 886.6 L1155.7 888.3 L1159.2 890.0 L1162.7 891.7 L1166.2 893.4 L1169.6 895.1 L1173.1 896.8 L1176.5 898.4 L1179.9 900.1 L1183.3 901.7 L1186.6 903.4 L1190.0 905.0 L1193.3 906.6 L1196.6 908.3 L1199.9 909.9 L1203.2 911.5 L1206.5 913.1 L1209.7 914.6 L1212.9 916.2 L1216.1 917.8 L1219.3 919.4 L1222.5 920.9 L1225.7 922.5 L1228.8 924.0 L1231.9 925.5 L1235.1 927.1 L1238.1 928.6 L1241.2 930.1 L1244.3 931.6 L1247.3 933.1 L1250.4 934.6 L1253.4 936.0 L1256.4 937.5 L1259.3 939.0 L1262.3 940.4 L1265.2 941.9 L1268.2 943.3 L1271.1 944.8 L1274.0 946.2 L1276.9 947.6 L1279.7 949.0 L1282.6 950.4 L1285.4 951.9 L1288.2 953.2 L1291.0 954.6 L1293.8 956.0 L1296.6 957.4 L1299.3 958.8 L1302.1 960.1 L1304.8 961.5 L1307.5 962.8 L1310.2 964.2 L1313.6 965.8 L1316.9 967.5 L1320.2 969.1 L1323.5 970.8 L1326.7 972.4 L1329.9 974.0 L1333.1 975.6 L1336.3 977.2 L1339.5 978.8 L1342.6 980.4 L1345.7 981.9 L1348.8 983.5 L1351.9 985.0 L1355.0 986.5 L1358.0 988.1 L1361.0 989.6 L1364.0 991.1 L1366.9 992.5 L1369.9 994.0 L1372.8 995.5 L1375.7 996.9 L1378.6 998.4 L1381.4 999.8 L1384.3 1001.3 L1387.1 1002.7 L1389.9 1004.1 L1392.6 1005.5 L1395.4 1006.9 L1398.1 1008.3 L1400.8 1009.7 L1403.5 1011.0 L1406.7 1012.7 L1409.9 1014.3 L1413.0 1015.9 L1416.1 1017.5 L1419.2 1019.1 L1422.2 1020.7 L1425.3 1022.2 L1428.3 1023.8 L1431.2 1025.3 L1434.2 1026.9 L1437.1 1028.4 L1440.0 1029.9 L1442.8 1031.4 L1445.7 1032.9 L1448.5 1034.3 L1451.2 1035.8 L1454.0 1037.3 L1456.7 1038.7 L1459.4 1040.1 L1462.1 1041.6 L1464.7 1043.0 L1467.8 1044.6 L1470.8 1046.2 L1473.8 1047.8 L1476.8 1049.4 L1479.7 1051.0 L1482.6 1052.6 L1485.4 1054.1 L1488.2 1055.7 L1491.0 1057.2 L1493.8 1058.7 L1496.5 1060.2 L1499.2 1061.7 L1501.8 1063.2 L1504.5 1064.7 L1507.4 1066.4 L1510.3 1068.0 L1513.2 1069.6 L1516.1 1071.3 L1518.9 1072.9 L1521.6 1074.5 L1524.4 1076.0 L1527.0 1077.6 L1529.7 1079.2 L1532.3 1080.7 L1535.2 1082.4 L1538.0 1084.1 L1540.8 1085.8 L1543.6 1087.4 L1546.3 1089.1 L1548.9 1090.7 L1551.6 1092.3 L1554.1 1093.9 L1557.0 1095.7 L1559.7 1097.4 L1562.4 1099.2 L1565.1 1100.9 L1567.7 1102.6 L1570.2 1104.3 L1572.7 1105.9 L1575.4 1107.7 L1578.1 1109.5 L1580.7 1111.3 L1583.2 1113.0 L1585.6 1114.8 L1588.2 1116.7 L1590.7 1118.5 L1593.1 1120.4 L1595.6 1122.4 L1598.1 1124.3 L1600.5 1126.3 L1602.8 1128.2 L1605.3 1130.2 L1607.7 1132.3 L1609.9 1134.3 L1612.3 1136.4 L1614.6 1138.5 L1616.8 1140.6 L1619.1 1142.8 L1621.3 1145.0 L1623.4 1147.1 L1625.5 1149.4 L1627.6 1151.7 L1629.7 1154.0 L1631.7 1156.4 L1633.7 1158.8 L1635.6 1161.1 L1637.6 1163.5 L1639.4 1166.0 L1641.2 1168.5 L1642.9 1171.1 L1644.6 1173.7 L1646.2 1176.3 L1647.7 1179.0 L1649.1 1181.7 L1650.5 1184.4 L1651.8 1187.3 L1653.0 1190.1 L1654.2 1193.0 L1655.3 1196.0 L1656.3 1198.9 L1657.3 1201.9 L1658.1 1204.8 L1658.9 1207.7 L1659.6 1210.7 L1660.3 1213.8 L1660.9 1216.7 L1661.5 1219.8 L1662.0 1222.8 L1662.5 1225.8 L1662.9 1228.9 L1663.3 1232.0 L1663.7 1235.1 L1664.0 1238.2 L1664.3 1241.2 L1664.6 1244.3 L1664.8 1247.3 L1665.0 1250.4 L1665.2 1253.6 L1665.3 1256.6 L1665.4 1259.8 L1665.5 1262.8 L1665.6 1265.2" stroke-width="3.8"/>
</g>
<!-- x tick labels -->
<text transform="translate(251.0 1575.5) scale(1 1.03)" font-size="55.6" text-anchor="middle">0</text>
<text transform="translate(618.2 1575.5) scale(1 1.03)" font-size="55.6" text-anchor="middle">50</text>
<text transform="translate(982.4 1575.5) scale(1 1.03)" font-size="55.6" text-anchor="middle">100</text>
<text transform="translate(1351.1 1575.5) scale(1 1.03)" font-size="55.6" text-anchor="middle">150</text>
<text transform="translate(1716.7 1575.5) scale(1 1.03)" font-size="55.6" text-anchor="middle">200</text>
<text transform="translate(2081.6 1575.5) scale(1 1.03)" font-size="55.6" text-anchor="middle">250</text>
<!-- y tick labels -->
<text transform="translate(201.1 78.6) scale(1 1.03)" font-size="55.6" text-anchor="end">10</text>
<text transform="translate(228.9 50.7) scale(1 1.03)" font-size="44.2" text-anchor="end">0</text>
<text transform="translate(184.1 368.1) scale(1 1.03)" font-size="55.6" text-anchor="end">10</text>
<text transform="translate(225.7 340.2) scale(1 1.03)" font-size="44.2" text-anchor="end">-5</text>
<text transform="translate(158.9 658.1) scale(1 1.03)" font-size="55.6" text-anchor="end">10</text>
<text transform="translate(225.9 630.2) scale(1 1.03)" font-size="44.2" text-anchor="end">-10</text>
<text transform="translate(158.9 944.8) scale(1 1.03)" font-size="55.6" text-anchor="end">10</text>
<text transform="translate(225.9 916.9) scale(1 1.03)" font-size="44.2" text-anchor="end">-15</text>
<text transform="translate(158.9 1234.7) scale(1 1.03)" font-size="55.6" text-anchor="end">10</text>
<text transform="translate(225.9 1206.8) scale(1 1.03)" font-size="44.2" text-anchor="end">-20</text>
<text transform="translate(158.9 1524.1) scale(1 1.03)" font-size="55.6" text-anchor="end">10</text>
<text transform="translate(225.9 1496.2) scale(1 1.03)" font-size="44.2" text-anchor="end">-25</text>
<!-- axis labels -->
<text transform="translate(1169.6 1659.4)" font-size="62.27" text-anchor="middle">Distance (km)</text>
<text transform="translate(65.6 770.8) rotate(-90)" font-size="62" text-anchor="middle">Secure Key Rate (per pluse)</text>
<!-- legend -->
<rect x="1525.3" y="94.7" width="512" height="196.6" fill="#ffffff" stroke="#262626" stroke-width="3"/>
<path d="M1538.2 148.0H1708.8" stroke="#ff0000" stroke-width="7.8" stroke-opacity="0.5" fill="none"/>
<path d="M1538.2 148.0H1708.8" stroke="#ff0000" stroke-width="3.8" fill="none"/>
<path d="M1538.2 238.0H1708.8" stroke="#0000ff" stroke-width="7.8" stroke-opacity="0.5" fill="none"/>
<path d="M1538.2 238.0H1708.8" stroke="#0000ff" stroke-width="3.8" fill="none"/>
<text transform="translate(1719.8 155.0)" font-size="51" class="lg">n=3(</text>
<text transform="translate(1823.5 155.0) scale(1.08 1)" font-size="50" class="eta lg">η</text>
<text transform="translate(1849.3 180.2)" font-size="38.5" class="lg">d</text>
<text transform="translate(1872.4 155.0)" font-size="51" class="lg">=93%)</text>
<text transform="translate(1719.8 248.0)" font-size="51" class="lg">n=3(</text>
<text transform="translate(1823.5 248.0) scale(1.08 1)" font-size="50" class="eta lg">η</text>
<text transform="translate(1849.3 273.2)" font-size="38.5" class="lg">d</text>
<text transform="translate(1872.4 248.0)" font-size="51" class="lg">=40%)</text>
</svg>
</body>
</html>
